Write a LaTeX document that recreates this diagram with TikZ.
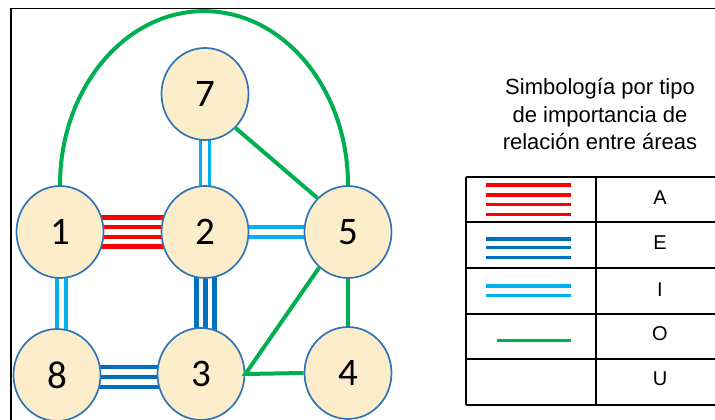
\documentclass[tikz,border=0pt]{standalone}
\usepackage{fontspec}
\setmainfont{Liberation Sans}
\newfontfamily\numfont{Carlito}
\usetikzlibrary{shapes.geometric,backgrounds}
\definecolor{nodefill}{RGB}{251,237,202}
\definecolor{nodeline}{RGB}{46,117,182}
\definecolor{relA}{RGB}{255,0,0}
\definecolor{relE}{RGB}{0,112,192}
\definecolor{relI}{RGB}{0,176,240}
\definecolor{relO}{RGB}{0,176,80}
\begin{document}
\begin{tikzpicture}[x=1pt,y=1pt,
  area/.style={ellipse,draw=nodeline,line width=1.7pt,fill=nodefill,minimum width=87pt,minimum height=92pt,inner sep=0pt,font=\numfont\fontsize{39}{39}\selectfont},
  linkA/.style={draw=relA,line width=4.4pt},
  linkE/.style={draw=relE,line width=4.2pt},
  linkI/.style={draw=relI,line width=3.9pt},
  linkO/.style={draw=relO,line width=4pt},
  legA/.style={draw=relA,line width=3.4pt},
  legE/.style={draw=relE,line width=3.4pt},
  legI/.style={draw=relI,line width=3.4pt},
  legO/.style={draw=relO,line width=3.4pt},
  frame/.style={draw=black,line width=1.6pt},
  tabline/.style={draw=black,line width=1.4pt},
  lbl/.style={font=\fontsize{20}{20}\selectfont},
  ttl/.style={anchor=base,font=\fontsize{22}{27.5}\selectfont}]
\useasboundingbox (0,0) rectangle (715,420);
% frame
\draw[frame] (11,-5) -- (11,411.5) -- (720,411.5);
% nodes
\node[area] (n1) at (60,188) {1};
\node[area] (n2) at (205,188) {2};
\node[area] (n5) at (348,188) {5};
\node[area] (n7) at (205,326) {7};
\node[area] (n8) at (57,45) {8};
\node[area] (n3) at (201,46) {3};
\node[area] (n4) at (348,47) {4};
% connectors
\begin{pgfonlayer}{background}
\foreach \d in {-14.5,-4.8,4.8,14.5}
  \draw[linkA] ([yshift=\d pt]n1.center) -- ([yshift=\d pt]n2.center);
\foreach \d in {-4.7,4.7}
  \draw[linkI] ([yshift=\d pt]n2.center) -- ([yshift=\d pt]n5.center);
\foreach \d in {-4.5,4.5}
  \draw[linkI] ([xshift=\d pt]n7.center) -- ([xshift=\d pt]n2.center);
\foreach \d in {-2.8,5.6}
  \draw[linkI] ([xshift=\d pt]n1.center) -- ([xshift=\d pt]n1.center |- n8.center);
\foreach \d in {-8.5,0.5,9.5}
  \draw[linkE] ([xshift=\d pt]n2.center) -- ([xshift=\d pt]n2.center |- n3.center);
\foreach \d in {8.3,-1.7,-11.7}
  \draw[linkE] ([yshift=\d pt]n8.center) -- ([yshift=\d pt]n8.center -| n3.center);
\end{pgfonlayer}
\draw[linkO] (n7.-48) -- (n5.132);
\draw[linkO] (n5.231) -- (n3.east) -- (n4.west);
\draw[linkO] (n5.south) -- (n4.north);
\draw[linkO] (n1.north) arc[start angle=180,end angle=0,x radius=144,y radius=174];
% title
\node[ttl] (t1) at (600,325) {Simbología por tipo};
\node[ttl] (t2) at (600,297) {de importancia de};
\node[ttl] (t3) at (600,270) {relación entre áreas};
% table
\foreach \yy in {243,198,152,106,61,15}
  \draw[tabline] (466,\yy) -- (720,\yy);
\draw[tabline] (466,15) -- (466,243);
\draw[tabline] (596,15) -- (596,243);
\foreach \yy in {234.9,225.1,215.3,205.5}
  \draw[legA] (486,\yy) -- (571,\yy);
\foreach \yy in {181,172.3,162.7}
  \draw[legE] (486,\yy) -- (571,\yy);
\foreach \yy in {134,124.3}
  \draw[legI] (486,\yy) -- (571,\yy);
\draw[legO] (497,79.7) -- (571,79.7);
\node[lbl] (la) at (660,222) {A};
\node[lbl] (le) at (660,177) {E};
\node[lbl] (li) at (660,130) {I};
\node[lbl] (lo) at (660,86) {O};
\node[lbl] (lu) at (660,41) {U};
\end{tikzpicture}
\end{document}
